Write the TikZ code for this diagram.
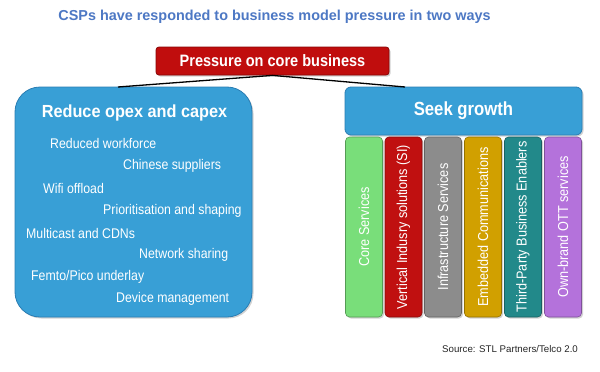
\documentclass[tikz,border=0pt]{standalone}
\usepackage{fontspec}
\setmainfont{Liberation Sans}
\newfontfamily\narrowfont[FakeStretch=0.88]{Liberation Sans}
\newfontfamily\semifont[FakeStretch=0.93]{Liberation Sans}
\usetikzlibrary{shadows}
\definecolor{titleblue}{HTML}{4D78C4}
\definecolor{boxblue}{HTML}{389FD6}
\definecolor{boxblueline}{HTML}{2A7DB3}
\definecolor{pressred}{HTML}{C00D0D}
\definecolor{pressredline}{HTML}{8A0606}
\definecolor{colgreen}{HTML}{79DE7A}
\definecolor{colred}{HTML}{C01010}
\definecolor{colgray}{HTML}{8C8C8C}
\definecolor{colgold}{HTML}{D1A000}
\definecolor{colteal}{HTML}{22898A}
\definecolor{colpurple}{HTML}{B472DB}
\tikzset{
  shade/.style={drop shadow={shadow xshift=1.5pt,shadow yshift=-1.5pt,opacity=0.35}},
  bluebox/.style={draw=boxblueline, fill=boxblue, line width=0.8pt, shade},
  itemtext/.style={text=white, anchor=west, font=\narrowfont\fontsize{14}{16}\selectfont, inner sep=0pt},
  colbox/.style={draw=#1!70!black, fill=#1, line width=0.6pt, rounded corners=4pt, minimum width=37pt, minimum height=180pt, inner sep=0pt, shade},
  coltext/.style={text=white, rotate=90, font=\narrowfont\fontsize{14.4}{16}\selectfont, inner sep=0pt},
  link/.style={line width=1.3pt, black}
}
\begin{document}
\begin{tikzpicture}[x=1pt,y=1pt]
\useasboundingbox (0,0) rectangle (600,-372);
\fill[white] (0,0) rectangle (600,-372);
% title
\node[text=titleblue, font=\bfseries\fontsize{14.4}{17}\selectfont, inner sep=0pt] (title) at (274.5,-17) {CSPs have responded to business model pressure in two ways};
% pressure box
\node[draw=pressredline, fill=pressred, line width=0.8pt, rounded corners=3pt, minimum width=233pt, minimum height=28pt, inner sep=0pt, shade,
      text=white, font=\narrowfont\bfseries\fontsize{16.5}{18}\selectfont] (press) at (272.5,-61) {Pressure on core business};
% left box
\node[bluebox, rounded corners=25pt, minimum width=237pt, minimum height=230pt, inner sep=0pt] (left) at (133.5,-202) {};
\node[text=white, font=\semifont\bfseries\fontsize{17.5}{20}\selectfont, inner sep=0pt] (lefttitle) at (134.5,-113) {Reduce opex and capex};
\node[itemtext] (i1) at (50,-143) {Reduced workforce};
\node[itemtext] (i2) at (123,-166) {Chinese suppliers};
\node[itemtext] (i3) at (43,-188) {Wifi offload};
\node[itemtext] (i4) at (103,-211) {Prioritisation and shaping};
\node[itemtext] (i5) at (26,-233) {Multicast and CDNs};
\node[itemtext] (i6) at (139,-255) {Network sharing};
\node[itemtext] (i7) at (31,-277) {Femto/Pico underlay};
\node[itemtext] (i8) at (116,-299) {Device management};
% right box
\node[bluebox, rounded corners=6pt, minimum width=237pt, minimum height=48pt, inner sep=0pt,
      text=white, font=\narrowfont\bfseries\fontsize{19}{21}\selectfont] (seek) at (463.5,-111) {Seek growth};
% columns
\node[colbox=colgreen] (c1) at (364,-227) {};
\node[colbox=colred] (c2) at (403.5,-227) {};
\node[colbox=colgray] (c3) at (443,-227) {};
\node[colbox=colgold] (c4) at (483,-227) {};
\node[colbox=colteal] (c5) at (523,-227) {};
\node[colbox=colpurple] (c6) at (563,-227) {};
\node[coltext] at (c1) {Core Services};
\node[coltext] at (c2) {Vertical Indusry solutions (SI)};
\node[coltext] at (c3) {Infrastructure Services};
\node[coltext] at (c4) {Embedded Communications};
\node[coltext] at (c5) {Third-Party Business Enablers};
\node[coltext] at (c6) {Own-brand OTT services};
% connectors
\coordinate (lefttop) at (118,-87);
\coordinate (righttop) at (405,-87);
\draw[link] (lefttop) -- (press.south) -- (righttop);
% source
\node[text=black!85, font=\fontsize{9.7}{11}\selectfont, inner sep=0pt, anchor=west] (source) at (442,-349) {Source: STL Partners/Telco 2.0};
\end{tikzpicture}
\end{document}
